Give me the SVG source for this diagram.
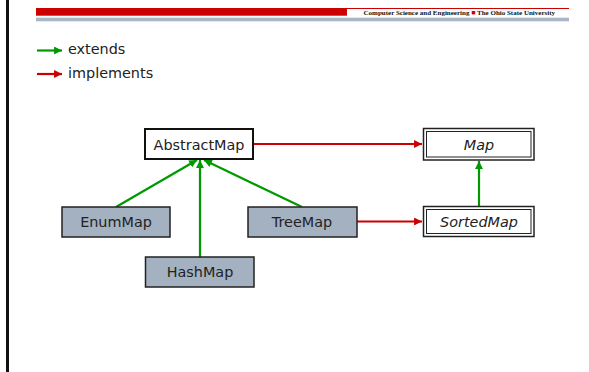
<svg xmlns="http://www.w3.org/2000/svg" width="589" height="372" viewBox="0 0 589 372">
<defs>
<style>
.lbl{font-family:"DejaVu Sans","Verdana",sans-serif;font-size:14.4px;fill:#222;text-anchor:middle}
.it{font-style:italic}
.leg{font-family:"DejaVu Sans","Verdana",sans-serif;font-size:14.4px;fill:#222}
.cls{fill:#a3b1c1;stroke:#222;stroke-width:1.5}
.abs{fill:#fff;stroke:#111;stroke-width:2}
.ifo{fill:#fff;stroke:#222;stroke-width:1.5}
.ifi{fill:none;stroke:#222;stroke-width:1}
.ext{stroke:#009a00;stroke-width:2.2;fill:none}
.imp{stroke:#cc0000;stroke-width:2.2;fill:none}
</style>
<marker id="ag" viewBox="0 0 10 10" refX="10" refY="5" markerWidth="3.6" markerHeight="3.6" orient="auto" markerUnits="strokeWidth">
<path d="M0,0 L10,5 L0,10 z" fill="#009a00"/>
</marker>
<marker id="ar" viewBox="0 0 10 10" refX="10" refY="5" markerWidth="3.6" markerHeight="3.6" orient="auto" markerUnits="strokeWidth">
<path d="M0,0 L10,5 L0,10 z" fill="#cc0000"/>
</marker>
</defs>
<rect width="589" height="372" fill="#fff"/>
<g id="header">
<rect x="6" y="0" width="3" height="372" fill="#111"/>
<rect x="36" y="8" width="311" height="7.7" fill="#cc0000"/>
<line x1="347" y1="8.5" x2="569" y2="8.5" stroke="#cc0000" stroke-width="1"/>
<rect x="36" y="17.7" width="533" height="3.6" fill="#a8b6c6"/>
<text x="555" y="14.6" text-anchor="end" font-family="'Liberation Serif','Times New Roman',serif" font-weight="bold" font-size="7" fill="#111">Computer Science and Engineering <tspan fill="#cc0000">■</tspan> The Ohio State University</text>
</g>
<g id="legend">
<line class="ext" x1="37" y1="50.5" x2="62" y2="50.5" marker-end="url(#ag)"/>
<text class="leg" x="68" y="54">extends</text>
<line class="imp" x1="37" y1="74" x2="62" y2="74" marker-end="url(#ar)"/>
<text class="leg" x="68" y="78">implements</text>
</g>
<g id="connectors">
<line class="imp" x1="254" y1="144" x2="422" y2="144" marker-end="url(#ar)"/>
<line class="imp" x1="357" y1="221.5" x2="422" y2="221.5" marker-end="url(#ar)"/>
<line class="ext" x1="479" y1="206" x2="479" y2="161" marker-end="url(#ag)"/>
<line class="ext" x1="116" y1="207" x2="197" y2="160" marker-end="url(#ag)"/>
<line class="ext" x1="200" y1="257" x2="200" y2="160" marker-end="url(#ag)"/>
<line class="ext" x1="302" y1="207" x2="204" y2="160" marker-end="url(#ag)"/>
</g>
<g id="AbstractMap">
<rect class="abs" x="145" y="129" width="108" height="30"/>
<text class="lbl" x="199" y="150">AbstractMap</text>
</g>
<g id="Map">
<rect class="ifo" x="423.5" y="128.5" width="110.5" height="31.5"/>
<rect class="ifi" x="426.5" y="131.5" width="104.5" height="25.5"/>
<text class="lbl it" x="479" y="150">Map</text>
</g>
<g id="SortedMap">
<rect class="ifo" x="423.5" y="206.5" width="110.5" height="30"/>
<rect class="ifi" x="426.5" y="209.5" width="104.5" height="24"/>
<text class="lbl it" x="479" y="227">SortedMap</text>
</g>
<g id="EnumMap">
<rect class="cls" x="62" y="207" width="108" height="30"/>
<text class="lbl" x="116" y="227">EnumMap</text>
</g>
<g id="TreeMap">
<rect class="cls" x="248" y="207" width="109" height="30"/>
<text class="lbl" x="302" y="227">TreeMap</text>
</g>
<g id="HashMap">
<rect class="cls" x="145.5" y="257" width="108.5" height="30"/>
<text class="lbl" x="200" y="277">HashMap</text>
</g>
</svg>
